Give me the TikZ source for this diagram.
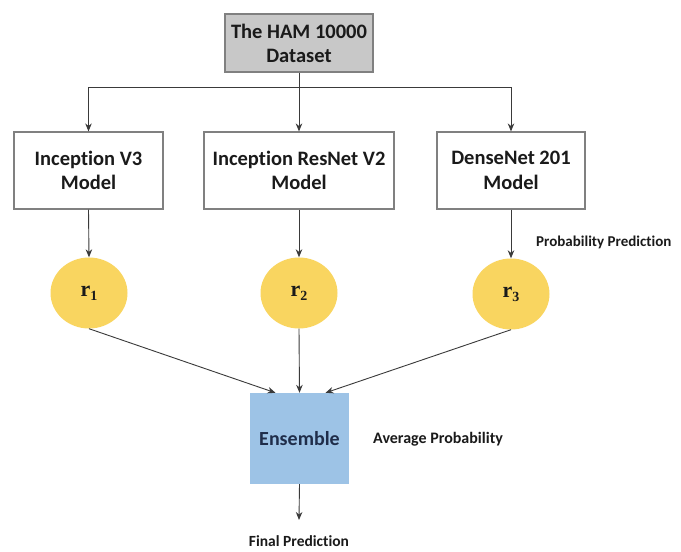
\documentclass[tikz,border=0pt]{standalone}
\usepackage{fontspec}
\setmainfont{Carlito}[Ligatures=NoCommon]
\newfontfamily\serifb{Liberation Serif}
\usetikzlibrary{arrows.meta,shapes.geometric}
\definecolor{linec}{HTML}{3A3A3A}
\definecolor{boxborder}{HTML}{808080}
\definecolor{topfill}{HTML}{C8C8C8}
\definecolor{circfill}{HTML}{F9D560}
\definecolor{ensfill}{HTML}{9DC3E6}
\definecolor{enstext}{HTML}{1F2D4A}
\definecolor{textc}{HTML}{1A1A1A}
\newcommand{\rsub}[1]{r\raisebox{-4pt}{\fontsize{14}{14}\selectfont #1}}
\tikzset{
  x=1pt, y=-1pt,
  arr/.style={draw=linec, line width=0.9pt, -{Stealth[length=8pt,width=6.5pt]}},
  ln/.style={draw=linec, line width=0.9pt},
  modelbox/.style={draw=boxborder, line width=1.2pt, fill=white, minimum height=77pt,
    align=center, font=\fontsize{20.5}{24.5}\selectfont\bfseries, text=textc, inner sep=0pt},
  rnode/.style={ellipse, fill=circfill, minimum width=77pt, minimum height=71pt, inner sep=0pt,
    font=\serifb\fontsize{22}{24}\selectfont\bfseries, text=textc},
  lbl/.style={font=\fontsize{15.5}{17}\selectfont\bfseries, text=textc, inner sep=0pt},
}
\begin{document}
\begin{tikzpicture}
\fill[white] (0,0) rectangle (681,552);
\useasboundingbox (0,0) rectangle (681,552);

\node[modelbox, fill=topfill, minimum width=148pt, minimum height=58pt,
  font=\fontsize{20.5}{24}\selectfont\bfseries] (top) at (299,43) {The HAM 10000\\Dataset};

\node[modelbox, minimum width=149pt] (m1) at (88.5,170.5) {Inception V3\\Model};
\node[modelbox, minimum width=190pt] (m2) at (299,170.5) {Inception ResNet V2\\Model};
\node[modelbox, minimum width=148pt] (m3) at (511,170.5) {DenseNet 201\\Model};

\node[rnode] (r1) at (89,293) {\rsub{1}};
\node[rnode] (r2) at (299,293) {\rsub{2}};
\node[rnode] (r3) at (511,294) {\rsub{3}};

\node[draw=none, fill=ensfill, minimum width=99pt, minimum height=91pt, inner sep=0pt,
  font=\fontsize{20}{23}\selectfont\bfseries, text=enstext] (ens) at (299.5,438.5) {Ensemble};

\node[lbl, anchor=west, font=\fontsize{15}{17}\selectfont\bfseries] (pp) at (536,242) {Probability Prediction};
\node[lbl, anchor=west, font=\fontsize{16}{18}\selectfont\bfseries] (avg) at (373,439) {Average Probability};
\node[lbl, font=\fontsize{15.5}{18}\selectfont\bfseries] (final) at (299,541.5) {Final Prediction};

\coordinate (split) at (299,87.5);
\coordinate (fe) at (299,520);

\draw[ln] (top.south) -- (split);
\draw[arr] (split) -| (m1.north);
\draw[arr] (split) -- (m2.north);
\draw[arr] (split) -| (m3.north);

\draw[arr] (m1.south) -- (r1.north);
\draw[arr] (m2.south) -- (r2.north);
\draw[arr] (m3.south) -- (r3.north);

\draw[arr] (r1.south) -- ([xshift=-24pt]ens.north);
\draw[arr] (r2.south) -- (ens.north);
\draw[arr] (r3.south) -- ([xshift=26pt]ens.north);

\draw[arr] (ens.south) -- (fe);
\end{tikzpicture}
\end{document}
